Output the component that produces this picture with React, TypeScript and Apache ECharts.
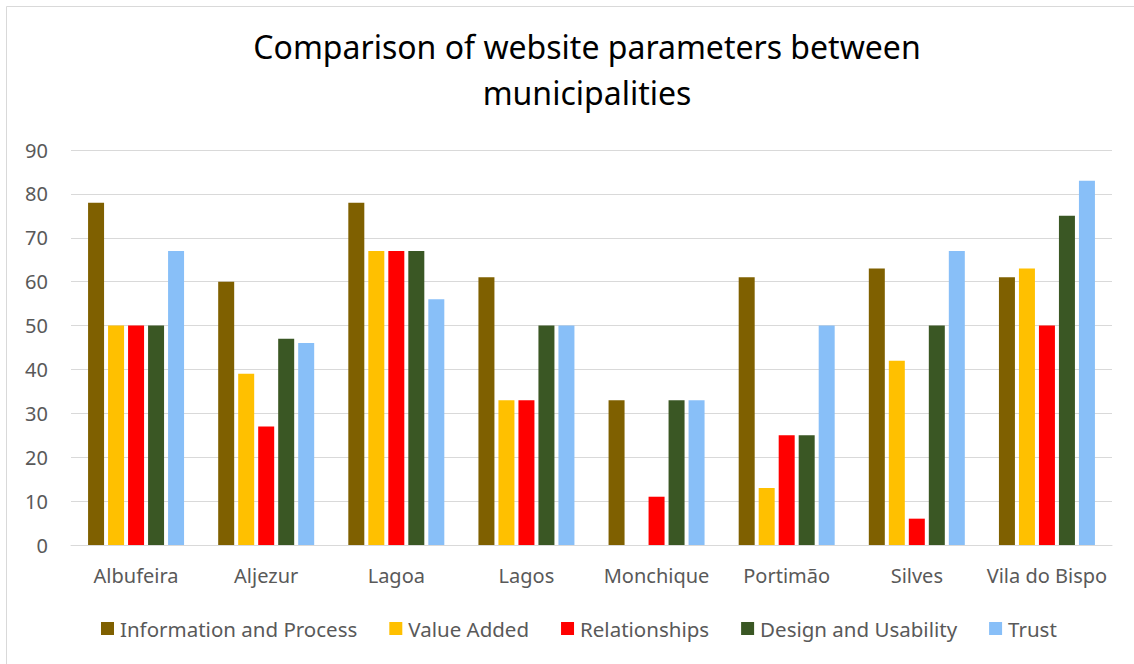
import React, { useEffect, useRef } from "react";
import * as echarts from "echarts";

const categories = ["Albufeira", "Aljezur", "Lagoa", "Lagos", "Monchique", "Portimão", "Silves", "Vila do Bispo"];
const seriesNames = ["Information and Process", "Value Added", "Relationships", "Design and Usability", "Trust"];
const informationAndProcess = [78, 60, 78, 61, 33, 61, 63, 61];
const valueAdded = [50, 39, 67, 33, 0, 13, 42, 63];
const relationships = [50, 27, 67, 33, 11, 25, 6, 50];
const designAndUsability = [50, 47, 67, 50, 33, 25, 50, 75];
const trust = [67, 46, 56, 50, 33, 50, 67, 83];
const colors = ["#7F6000", "#FFC000", "#FF0000", "#3A5724", "#88BFF8"];

const FONT = "'Noto Sans', 'Open Sans', sans-serif";

export default function App() {
  const ref = useRef<HTMLDivElement>(null);
  useEffect(() => {
    document.body.style.margin = "0";
    const chart = echarts.init(ref.current!, null, { renderer: "svg" });
    const data = [informationAndProcess, valueAdded, relationships, designAndUsability, trust];
    chart.setOption({
      animation: false,
      backgroundColor: "#ffffff",
      textStyle: { fontFamily: FONT },
      title: {
        text: "Comparison of website parameters between\nmunicipalities",
        left: 582,
        textAlign: "center",
        top: 18,
        textStyle: { fontFamily: FONT, fontSize: 32, fontWeight: "normal", color: "#000000", lineHeight: 46 },
      },
      graphic: [
        {
          type: "rect",
          shape: { x: 6.5, y: 6.5, width: 1140, height: 670 },
          style: { fill: "none", stroke: "#D9D9D9", lineWidth: 1 },
          silent: true,
          z: -1,
        },
      ],
      legend: {
        left: 96,
        top: 613,
        itemWidth: 13,
        itemHeight: 13,
        itemGap: 32,
        icon: "rect",
        textStyle: { fontFamily: FONT, fontSize: 20.5, color: "#595959", padding: [0, 0, 0, 1] },
        data: seriesNames,
      },
      grid: { left: 71, right: 22, top: 150, bottom: 119, containLabel: false },
      xAxis: {
        type: "category",
        data: categories,
        axisLine: { lineStyle: { color: "#D9D9D9", width: 1 } },
        axisTick: { show: false },
        axisLabel: { fontFamily: FONT, fontSize: 20, color: "#595959", margin: 20, interval: 0 },
      },
      yAxis: {
        type: "value",
        min: 0,
        max: 90,
        interval: 10,
        axisLine: { show: false },
        axisTick: { show: false },
        splitLine: { lineStyle: { color: "#D9D9D9", width: 1 } },
        axisLabel: { fontFamily: FONT, fontSize: 20, color: "#595959", margin: 23 },
      },
      series: seriesNames.map((name, i) => ({
        name,
        type: "bar",
        data: data[i],
        barWidth: 16,
        barGap: "25%",
        barCategoryGap: "26%",
        itemStyle: { color: colors[i] },
      })),
    });
    return () => chart.dispose();
  }, []);
  return <div ref={ref} style={{ position: "absolute", left: 0, top: 0, width: 1134, height: 664 }} />;
}
